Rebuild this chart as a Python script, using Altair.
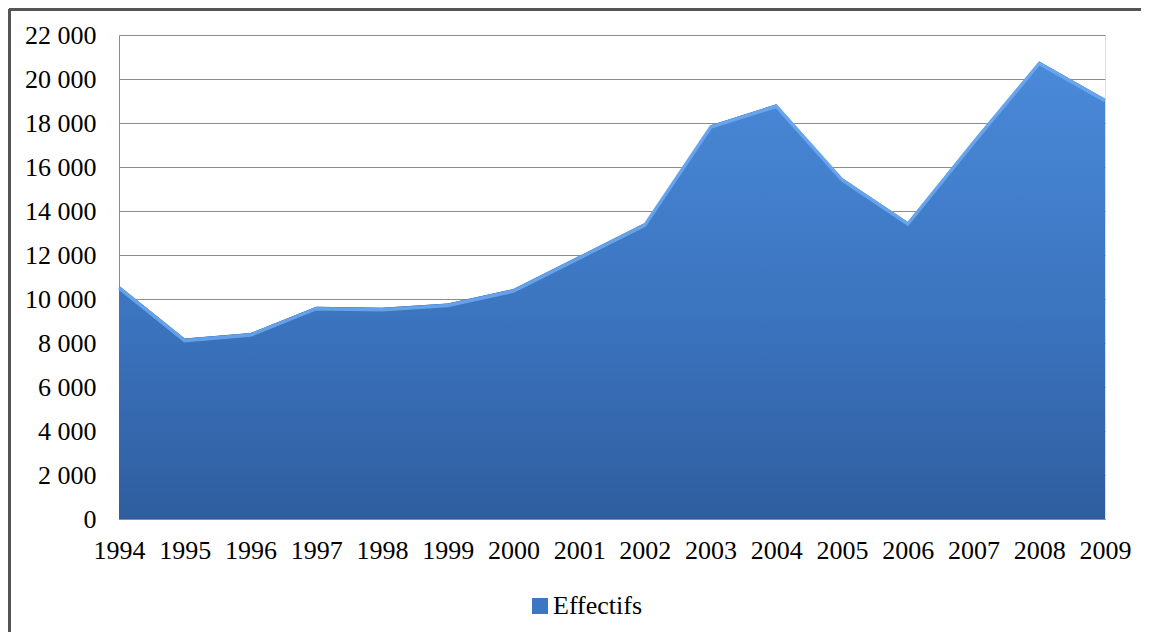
import altair as alt
import pandas as pd

years = [1994, 1995, 1996, 1997, 1998, 1999, 2000, 2001, 2002, 2003, 2004, 2005, 2006, 2007, 2008, 2009]
effectifs = [10600, 8200, 8450, 9650, 9600, 9800, 10450, 11950, 13450, 17900, 18850, 15500, 13500, 17200, 20800, 19100]
series_name = "Effectifs"
y_ticks = list(range(0, 22001, 2000))

df = pd.DataFrame({"annee": years, "valeur": effectifs, "serie": [series_name] * len(years)})

FONT = "Liberation Serif"
FS = 26
GRID = "#8c8c8c"

x_enc = alt.X("annee:O", scale=alt.Scale(type="point", padding=0),
              axis=alt.Axis(title=None, labelAngle=0, labelFont=FONT, labelFontSize=FS,
                            labelColor="black", labelPadding=18, ticks=False,
                            domainColor=GRID, domainWidth=1, grid=False, labelFlush=False))
y_enc = alt.Y("valeur:Q", scale=alt.Scale(domain=[0, 22000], nice=False),
              axis=alt.Axis(title=None, values=y_ticks, labelFont=FONT, labelFontSize=FS,
                            labelColor="black", labelPadding=23, ticks=False,
                            domainColor=GRID, domainWidth=1, gridColor=GRID, gridWidth=1,
                            labelExpr="replace(format(datum.value, ','), ',', ' ')"))

base = alt.Chart(df)

legend_area = base.mark_area(opacity=1).encode(
    x=x_enc, y=y_enc,
    color=alt.Color("serie:N", scale=alt.Scale(range=["#3d77c4"]),
                    legend=alt.Legend(title=None, orient="none", legendX=408, legendY=558,
                                      symbolType="square", symbolSize=256, symbolStrokeWidth=0,
                                      labelFont=FONT, labelFontSize=FS, labelColor="black",
                                      labelOffset=0, padding=0, symbolOpacity=1)),
)

grad_area = base.mark_area(
    color=alt.Gradient(gradient="linear",
                       stops=[alt.GradientStop(color="#4a8ad9", offset=0),
                              alt.GradientStop(color="#3b74bf", offset=0.55),
                              alt.GradientStop(color="#2f5e9f", offset=1)],
                       x1=0, x2=0, y1=0, y2=1)
).encode(x="annee:O", y="valeur:Q")

edge = base.mark_line(color="#70acf2", strokeWidth=3.5, opacity=0.8, yOffset=2).encode(
    x="annee:O", y="valeur:Q")

frame_left = alt.Chart(df).mark_rule(color="#555555", strokeWidth=3).encode(
    x=alt.value(-109.5), y=alt.value(-25.5), y2=alt.value(700))
frame_top = alt.Chart(df).mark_rule(color="#555555", strokeWidth=3).encode(
    x=alt.value(-109.5), x2=alt.value(1200), y=alt.value(-25.5))

chart = alt.layer(legend_area, grad_area, edge, frame_left, frame_top).properties(
    width=986, height=484,
    autosize=alt.AutoSizeParams(type="none"),
    padding={"left": 111, "top": 27, "right": 36, "bottom": 113},
).configure_view(stroke=None).configure(background="white")

chart.save("out.html", embed_options={"renderer": "svg", "actions": False})
